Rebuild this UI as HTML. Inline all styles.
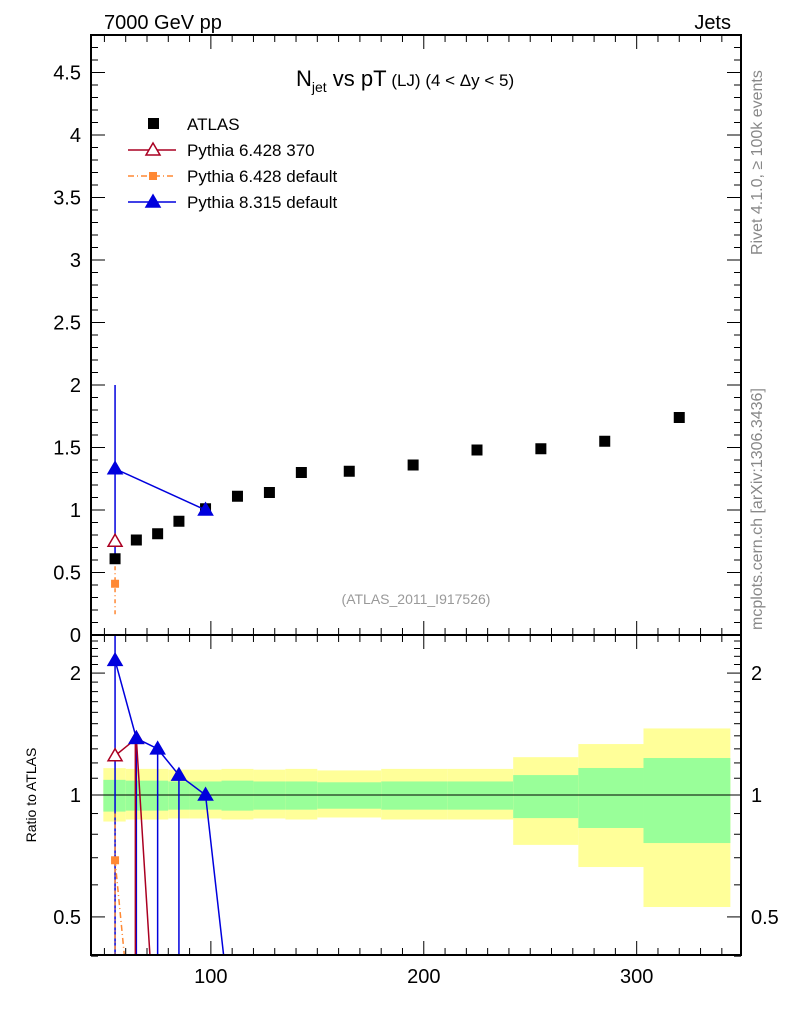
<!DOCTYPE html>
<html><head><meta charset="utf-8"><style>
body{margin:0;background:#fff;}
svg text{font-family:"Liberation Sans",sans-serif;}
</style></head><body>
<svg id="c" width="786" height="1024" xmlns="http://www.w3.org/2000/svg">
<text x="104" y="29" font-size="20">7000 GeV pp</text>
<text x="731" y="29" font-size="20" text-anchor="end">Jets</text>
<text transform="translate(762,255) rotate(-90)" font-size="16" fill="#888">Rivet 4.1.0, ≥ 100k events</text>
<text transform="translate(762,630) rotate(-90)" font-size="16" fill="#888">mcplots.cern.ch [arXiv:1306.3436]</text>
<text x="296" y="86" font-size="22">N<tspan font-size="14" dy="6">jet</tspan><tspan dy="-6"> vs pT</tspan><tspan font-size="17"> (LJ) (4 &lt; Δy &lt; 5)</tspan></text>
<text x="416" y="604" font-size="14" fill="#999" text-anchor="middle">(ATLAS_2011_I917526)</text>
<text transform="translate(36,795) rotate(-90)" font-size="14" text-anchor="middle">Ratio to ATLAS</text>
<g id="g"></g>
</svg>
<script>
const xs=[55,65,75,85,97.5,112.5,127.5,142.5,165,195,225,255,285,320];
const atlas=[0.61,0.76,0.81,0.91,1.01,1.11,1.14,1.30,1.31,1.36,1.48,1.49,1.55,1.74];
const binEdges=[49.5,60,70,80,90,105,120,135,150,180,211,242,272.6,303.2,344];
const yelHi=[1.165,1.16,1.16,1.155,1.155,1.16,1.155,1.16,1.15,1.16,1.16,1.24,1.336,1.46];
const yelLo=[0.86,0.87,0.87,0.875,0.875,0.87,0.875,0.87,0.88,0.87,0.87,0.753,0.664,0.529];
const grnHi=[1.09,1.085,1.085,1.08,1.08,1.085,1.08,1.08,1.075,1.08,1.08,1.12,1.166,1.234];
const grnLo=[0.91,0.915,0.915,0.92,0.92,0.915,0.92,0.92,0.925,0.92,0.92,0.877,0.829,0.761];
const p8x=[55,97.5],p8y=[1.33,1.0];
const p8rx=[55,65,75,85,97.5,112.5],p8r=[2.15,1.38,1.30,1.12,1.0,0.2];
const p6x=[55],p6y=[0.75],p6rx=[55,65,75],p6r=[1.25,1.38,0.2];
const p6dx=[55],p6dy=[0.41],p6drx=[55,65],p6dr=[0.69,0.2];
const xTicks=[100,200,300],yTicks=[0,0.5,1,1.5,2,2.5,3,3.5,4,4.5],rTicks=[0.5,1,2];

const L=91,R=741,T=35,M=635,B=955;
const X=v=>L+(v-43.7)*(R-L)/(349-43.7);
const Y=v=>M-v*125;
const RY=v=>795-405*Math.log10(v);
const g=document.getElementById('g');const NS='http://www.w3.org/2000/svg';
function el(t,a,name,p){const e=document.createElementNS(NS,t);for(const k in a)e.setAttribute(k,a[k]);


(p||g).appendChild(e);return e;}
const clipR=el('clipPath',{id:'cr'},'ratio-clip');el('rect',{x:L,y:M,width:R-L,height:B-M},'clip-rect',clipR);
const clipM=el('clipPath',{id:'cm'},'main-clip');el('rect',{x:L,y:T,width:R-L,height:M-T},'clip-rect',clipM);
const rg=el('g',{'clip-path':'url(#cr)'},'ratio-area');
const mg=el('g',{'clip-path':'url(#cm)'},'main-area');
for(let i=0;i<binEdges.length-1;i++){
 const x0=X(binEdges[i]),x1=X(binEdges[i+1]);
 el('rect',{x:x0,y:RY(yelHi[i]),width:x1-x0,height:RY(yelLo[i])-RY(yelHi[i]),fill:'#ffff99'},'band-yellow',rg);
 el('rect',{x:x0,y:RY(grnHi[i]),width:x1-x0,height:RY(grnLo[i])-RY(grnHi[i]),fill:'#99ff99'},'band-green',rg);
}
el('line',{x1:L,x2:R,y1:RY(1),y2:RY(1),stroke:'#000','stroke-width':1},'ratio-unity-line',rg);
el('rect',{x:L,y:T,width:R-L,height:M-T,fill:'none',stroke:'#000','stroke-width':2},'main-frame');
el('rect',{x:L,y:M,width:R-L,height:B-M,fill:'none',stroke:'#000','stroke-width':2},'ratio-frame');
for(let v=50;v<=340;v+=10){const maj=v%100==0,x=X(v),l=maj?14:7;
 [T,M].forEach(y0=>el('line',{x1:x,x2:x,y1:y0,y2:y0+l,stroke:'#000'},'x-tick'));
 [M,B].forEach(y0=>el('line',{x1:x,x2:x,y1:y0,y2:y0-l,stroke:'#000'},'x-tick'));}
xTicks.forEach(v=>{const t=el('text',{x:X(v),y:983,'font-size':20,'text-anchor':'middle'},'x-tick-label');t.textContent=v;});
for(let v=0;v<=4.8;v+=0.1){const y=Y(v),maj=Math.abs(v*2-Math.round(v*2))<1e-6,l=maj?14:7;
 el('line',{x1:L,x2:L+l,y1:y,y2:y,stroke:'#000'},'y-tick');el('line',{x1:R,x2:R-l,y1:y,y2:y,stroke:'#000'},'y-tick');}
yTicks.forEach(v=>{const t=el('text',{x:81,y:Y(v)+7,'font-size':20,'text-anchor':'end'},'y-tick-label');t.textContent=v;});
for(let v=0.4;v<=2.45;v+=0.1){const r=Math.round(v*10)/10,y=RY(r),maj=rTicks.includes(r),l=maj?14:7;
 el('line',{x1:L,x2:L+l,y1:y,y2:y,stroke:'#000'},'ratio-tick');el('line',{x1:R,x2:R-l,y1:y,y2:y,stroke:'#000'},'ratio-tick');}
rTicks.forEach(v=>{[[81,'end'],[751,'start']].forEach(([x,a])=>{const t=el('text',{x:x,y:RY(v)+7,'font-size':20,'text-anchor':a},'ratio-tick-label');t.textContent=v;});});
function tri(p,x,y,c,fill,name){el('polygon',{points:`${x},${y-7} ${x-7},${y+5} ${x+7},${y+5}`,fill:fill?c:'#fff',stroke:c,'stroke-width':1.5},name,p);}
function line(p,xa,ya,fx,fy,c,dash,name){el('polyline',{points:xa.map((v,i)=>fx(v)+','+fy(ya[i])).join(' '),fill:'none',stroke:c,'stroke-width':1.5,'stroke-dasharray':dash||''},name,p);}
el('line',{x1:X(55),x2:X(55),y1:Y(2.0),y2:Y(0.6),stroke:'#0000dd','stroke-width':1.5},'pythia8-error-bar',mg);
el('line',{x1:X(55),x2:X(55),y1:Y(0.55),y2:Y(0.15),stroke:'#ff8833','stroke-width':1.5,'stroke-dasharray':'4 3 1 3'},'pythia6-default-error-bar',mg);
atlas.forEach((v,i)=>el('rect',{x:X(xs[i])-5.5,y:Y(v)-5.5,width:11,height:11,fill:'#000'},'atlas-point',mg));
line(mg,p8x,p8y,X,Y,'#0000dd','','pythia8-line');
p8x.forEach((v,i)=>tri(mg,X(v),Y(p8y[i]),'#0000dd',true,'pythia8-point'));
p6x.forEach((v,i)=>tri(mg,X(v),Y(p6y[i]),'#aa0022',false,'pythia6-370-point'));
p6dx.forEach((v,i)=>el('rect',{x:X(v)-4,y:Y(p6dy[i])-4,width:8,height:8,fill:'#ff8833'},'pythia6-default-point',mg));
el('line',{x1:X(55),x2:X(55),y1:RY(2.5),y2:B,stroke:'#0000dd','stroke-width':1.5},'pythia8-ratio-error',rg);
[65,75,85].forEach(v=>{const i=p8rx.indexOf(v);el('line',{x1:X(v),x2:X(v),y1:RY(p8r[i]),y2:B,stroke:'#0000dd','stroke-width':1.5},'pythia8-ratio-error',rg);});
el('line',{x1:X(65)-1,x2:X(65)-1,y1:RY(1.38),y2:B,stroke:'#aa0022','stroke-width':1.5},'pythia6-370-ratio-error',rg);
line(rg,p6drx,p6dr,X,RY,'#ff8833','6 3 1 3','pythia6-default-ratio-line');
el('line',{x1:X(55),x2:X(55),y1:RY(0.9),y2:B,stroke:'#ff8833','stroke-width':1.5,'stroke-dasharray':'4 3 1 3'},'pythia6-default-ratio-error',rg);
line(rg,p6rx,p6r,X,RY,'#aa0022','','pythia6-370-ratio-line');
line(rg,p8rx,p8r,X,RY,'#0000dd','','pythia8-ratio-line');
p6drx.slice(0,1).forEach((v,i)=>el('rect',{x:X(v)-4,y:RY(p6dr[i])-4,width:8,height:8,fill:'#ff8833'},'pythia6-default-ratio-point',rg));
p6rx.slice(0,2).forEach((v,i)=>tri(rg,X(v),RY(p6r[i]),'#aa0022',false,'pythia6-370-ratio-point'));
p8rx.slice(0,5).forEach((v,i)=>tri(rg,X(v),RY(p8r[i]),'#0000dd',true,'pythia8-ratio-point'));
const lg=el('g',{},'legend');
const ent=[['ATLAS','sq'],['Pythia 6.428 370','r'],['Pythia 6.428 default','o'],['Pythia 8.315 default','b']];
ent.forEach((e,i)=>{const y=124+i*26;
 if(e[1]=='sq')el('rect',{x:148,y:y-6,width:11,height:11,fill:'#000'},'legend-marker',lg);
 if(e[1]=='r'){el('line',{x1:128,x2:176,y1:y,y2:y,stroke:'#aa0022','stroke-width':1.5},'legend-line',lg);tri(lg,153,y,'#aa0022',false,'legend-marker');}
 if(e[1]=='o'){el('line',{x1:128,x2:176,y1:y,y2:y,stroke:'#ff8833','stroke-width':1.5,'stroke-dasharray':'6 3 1 3'},'legend-line',lg);el('rect',{x:149,y:y-4,width:8,height:8,fill:'#ff8833'},'legend-marker',lg);}
 if(e[1]=='b'){el('line',{x1:128,x2:176,y1:y,y2:y,stroke:'#0000dd','stroke-width':1.5},'legend-line',lg);tri(lg,153,y,'#0000dd',true,'legend-marker');}
 const t=el('text',{x:187,y:y+6,'font-size':17},'legend-entry',lg);t.textContent=e[0];});
</script>
</body></html>
